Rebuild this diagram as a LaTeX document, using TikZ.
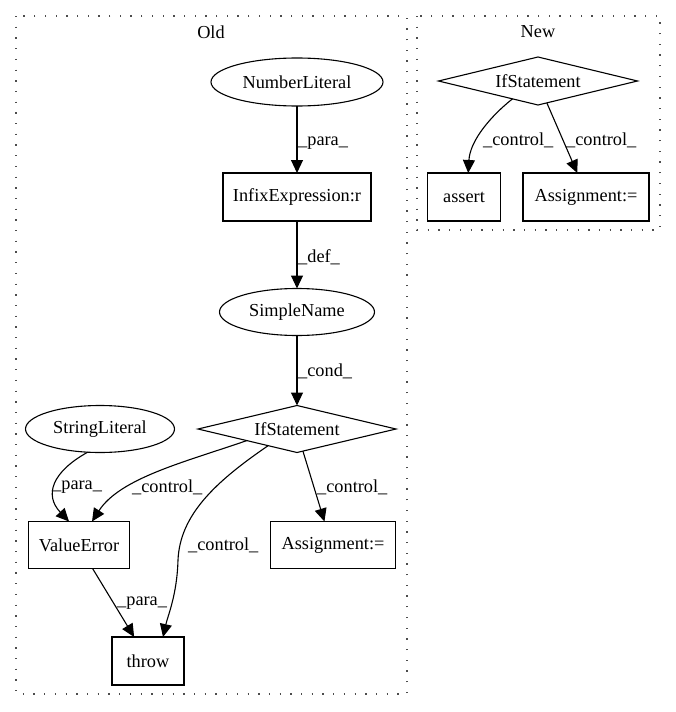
\documentclass[tikz,border=0pt]{standalone}
\usepackage{fontspec}
\setmainfont{Liberation Serif}
\usetikzlibrary{shapes.geometric,arrows.meta}
\begin{document}
\begin{tikzpicture}[x=1pt,y=-1pt,
  every node/.style={font=\fontsize{18.3}{22}\selectfont},
  base/.style={draw=black,line width=1.1pt,inner sep=0pt,outer sep=0pt},
  ell/.style={base,ellipse},
  box/.style={base,rectangle},
  dia/.style={base,diamond,aspect=4},
  edge/.style={line width=1.1pt,-{Triangle[length=13pt,width=12pt]}},
  lab/.style={anchor=west,inner sep=0pt},
  clus/.style={draw=black!70,line width=1.3pt,dash pattern=on 1.3pt off 9.4pt}
]
\useasboundingbox (0,0) rectangle (676,712);
% clusters
\draw[clus] (16,16) rectangle (407,694);
\draw[clus] (417,16) rectangle (660,230);
\node (oldlab) at (211,32) {Old};
\node (newlab) at (538,32) {New};
% Old nodes
\node[ell,minimum width=172pt,minimum height=48pt] (nl) at (297,82) {NumberLiteral};
\node[box,minimum width=148pt,minimum height=48pt] (ie) at (297,197) {InfixExpression:r};
\node[ell,minimum width=155pt,minimum height=47pt] (sn) at (297,312) {SimpleName};
\node[dia,minimum width=198pt,minimum height=47pt] (if1) at (297,429) {IfStatement};
\node[ell,minimum width=149pt,minimum height=47pt] (sl) at (100,429) {StringLiteral};
\node[box,minimum width=101pt,minimum height=47pt] (ve) at (79,545) {ValueError};
\node[box,minimum width=125pt,minimum height=47pt] (asg) at (333,545) {Assignment:=};
\node[box,minimum width=72pt,minimum height=48pt] (thr) at (148,661) {throw};
% New nodes
\node[dia,minimum width=199pt,minimum height=48pt] (if2) at (538,81) {IfStatement};
\node[box,minimum width=73pt,minimum height=48pt] (as) at (464,197) {assert};
\node[box,minimum width=126pt,minimum height=48pt] (asg2) at (586,197) {Assignment:=};
% Old edges
\draw[edge] (nl) -- (ie);
\node[lab] (l1) at (298,143) {\_para\_};
\draw[edge] (ie) -- (sn);
\node[lab] (l2) at (298,257) {\_def\_};
\draw[edge] (sn) -- (if1);
\node[lab] (l3) at (298,371) {\_cond\_};
\draw[edge] (sl.-118) .. controls (52,472) and (44,495) .. (ve.113);
\node[lab] (l4) at (52,487) {\_para\_};
\draw[edge] (if1.193) .. controls (185,462) and (120,478) .. (ve.61);
\node[lab] (l5) at (132,487) {\_control\_};
\draw[edge] (if1.210) .. controls (215,482) and (180,515) .. (178,560)
   .. controls (177,595) and (168,615) .. (thr.58);
\node[lab] (l6) at (188,545) {\_control\_};
\draw[edge] (if1.285) -- (asg.110);
\node[lab] (l7) at (317,487) {\_control\_};
\draw[edge] (ve.300) -- (thr.120);
\node[lab] (l8) at (117,603) {\_para\_};
% New edges
\draw[edge] (if2.215) .. controls (492,115) and (470,140) .. (as.80);
\node[lab] (l9) at (483,140) {\_control\_};
\draw[edge] (if2.292) -- (asg2.110);
\node[lab] (l10) at (566,140) {\_control\_};
\end{tikzpicture}
\end{document}
